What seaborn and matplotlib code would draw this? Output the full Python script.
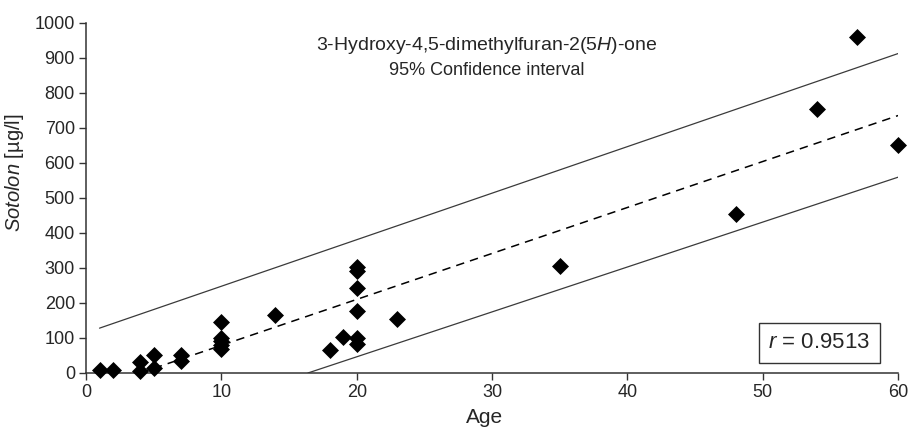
import matplotlib
matplotlib.use("Agg")
import matplotlib.pyplot as plt
import seaborn as sns
import pandas as pd

# data
age = [1, 2, 4, 4, 5, 5, 7, 7, 10, 10, 10, 10, 10, 14, 18, 19, 20, 20, 20, 20, 20, 20, 23, 35, 48, 54, 57, 60]
sotolon = [8, 8, 5, 30, 15, 50, 33, 52, 145, 100, 90, 80, 68, 165, 65, 103, 100, 82, 178, 243, 290, 303, 155, 305, 455, 755, 960, 650]

fit_x = [4.0, 60.0]
fit_y = [0.0, 735.0]
upper_x = [1.0, 60.0]
upper_y = [128.0, 912.0]
lower_x = [16.4, 60.0]
lower_y = [0.0, 559.0]

x_ticks = [0, 10, 20, 30, 40, 50, 60]
y_ticks = list(range(0, 1001, 100))

sns.set_theme(style="white")
plt.rcParams['font.family'] = ['Liberation Sans', 'DejaVu Sans']
plt.rcParams['mathtext.fontset'] = 'custom'
plt.rcParams['mathtext.rm'] = 'Liberation Sans'
plt.rcParams['mathtext.it'] = 'Liberation Sans:italic'

fig = plt.figure(figsize=(9.09, 4.37), dpi=100)
ax = fig.add_axes([0.0946, 0.1465, 0.8934, 0.8015])

df = pd.DataFrame({"age": age, "sotolon": sotolon})
sns.lineplot(x=upper_x, y=upper_y, ax=ax, color="#3a3a3a", linewidth=0.9)
sns.lineplot(x=lower_x, y=lower_y, ax=ax, color="#3a3a3a", linewidth=0.9)
sns.lineplot(x=fit_x, y=fit_y, ax=ax, color="black", linewidth=1.1)
ax.lines[-1].set_dashes([5.5, 4])
sns.scatterplot(data=df, x="age", y="sotolon", ax=ax, marker="D", s=75,
                color="black", edgecolor="black", linewidth=0, zorder=5, clip_on=False)

ax.set_xlim(0, 60)
ax.set_ylim(0, 1000)
ax.set_xticks(x_ticks)
ax.set_yticks(y_ticks)
ax.tick_params(axis="both", direction="out", length=5, width=1, color="#333333",
               labelsize=13, pad=3, bottom=True, left=True)
for s in ["top", "right"]:
    ax.spines[s].set_visible(False)
for s in ["left", "bottom"]:
    ax.spines[s].set_color("#333333")
    ax.spines[s].set_linewidth(1.1)

ax.set_xlabel("Age", fontsize=15, labelpad=5)
ax.set_ylabel(r"$\it{Sotolon}$ [µg/l]", fontsize=14.5, labelpad=6)
ax.xaxis.label.set_x(0.491)
ax.yaxis.label.set_y(0.571)

ax.text(0.493, 0.935, r"3-Hydroxy-4,5-dimethylfuran-2(5$\it{H}$)-one", transform=ax.transAxes,
        ha="center", va="center", fontsize=14)
ax.text(0.493, 0.865, "95% Confidence interval", transform=ax.transAxes,
        ha="center", va="center", fontsize=13)
ax.text(0.903, 0.086, r"$\it{r}$ = 0.9513", transform=ax.transAxes, ha="center", va="center",
        fontsize=16,
        bbox=dict(boxstyle="square,pad=0.42", facecolor="white", edgecolor="#333333", linewidth=1))

fig.savefig("out.png", dpi=100)
